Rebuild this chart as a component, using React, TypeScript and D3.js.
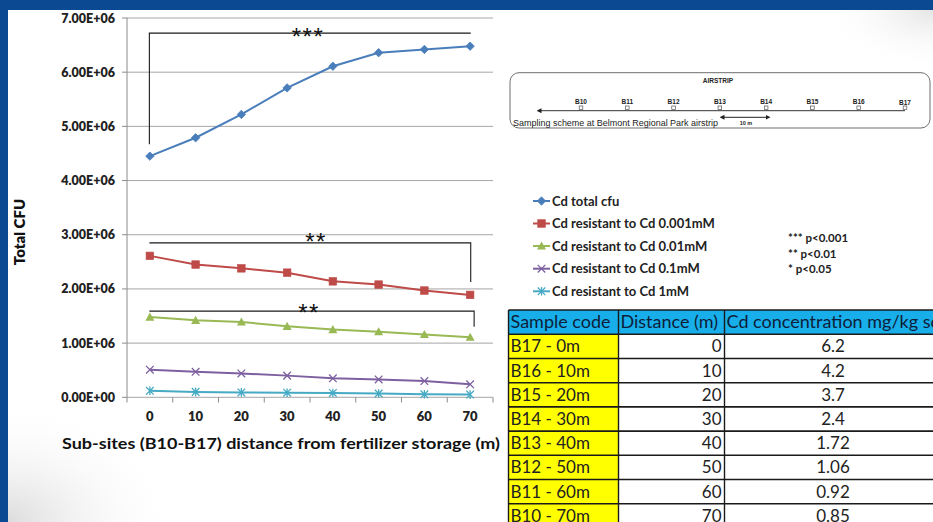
import React from 'react';
import * as d3 from 'd3';

const categories = ['0', '10', '20', '30', '40', '50', '60', '70'];
const totalCfu = [4.45e6, 4.79e6, 5.22e6, 5.71e6, 6.11e6, 6.36e6, 6.42e6, 6.48e6];
const res0001 = [2.61e6, 2.45e6, 2.38e6, 2.30e6, 2.14e6, 2.08e6, 1.97e6, 1.89e6];
const res001 = [1.48e6, 1.42e6, 1.39e6, 1.31e6, 1.25e6, 1.21e6, 1.16e6, 1.11e6];
const res01 = [0.51e6, 0.47e6, 0.44e6, 0.40e6, 0.35e6, 0.33e6, 0.30e6, 0.24e6];
const res1 = [0.12e6, 0.10e6, 0.09e6, 0.085e6, 0.08e6, 0.07e6, 0.055e6, 0.05e6];
const seriesNames = [
  'Cd total cfu',
  'Cd resistant to Cd 0.001mM',
  'Cd resistant to Cd 0.01mM',
  'Cd resistant to Cd 0.1mM',
  'Cd resistant to Cd 1mM',
];
const yTicks = [0, 1e6, 2e6, 3e6, 4e6, 5e6, 6e6, 7e6];
const pLegend = ['*** p<0.001', '** p<0.01', '* p<0.05'];
const sites = ['B10', 'B11', 'B12', 'B13', 'B14', 'B15', 'B16', 'B17'];
const tableHeader = ['Sample code', 'Distance (m)', 'Cd concentration mg/kg soil'];
const sampleCodes = ['B17 - 0m', 'B16 - 10m', 'B15 - 20m', 'B14 - 30m', 'B13 - 40m', 'B12 - 50m', 'B11 - 60m', 'B10 - 70m'];
const distances = [0, 10, 20, 30, 40, 50, 60, 70];
const cdConc = ['6.2', '4.2', '3.7', '2.4', '1.72', '1.06', '0.92', '0.85'];
const brackets = [
  { label: '***', level: 6.72e6, leftDrop: 4.67e6, rightDrop: null as number | null, textX: 308, textY: 44.5 },
  { label: '**', level: 2.85e6, leftDrop: null as number | null, rightDrop: 2.13e6, textX: 316, textY: 249.5 },
  { label: '**', level: 1.59e6, leftDrop: null as number | null, rightDrop: 1.30e6, textX: 309, textY: 320.5 },
];

const colors = ['#4a7ebb', '#be4b48', '#98b954', '#7d60a0', '#46aac5'];
const FONT = 'Lato, "Open Sans", sans-serif';
const ARIAL = "'Liberation Sans', Arial, sans-serif";

function fmtE(v: number) {
  const [m, e] = v.toExponential(2).split('e');
  const sign = e[0] === '-' ? '-' : '+';
  const digits = e.replace(/[+-]/, '').padStart(2, '0');
  return `${m.toUpperCase()}E${sign}${digits}`;
}

function Marker({ type, x, y, color }: { type: number; x: number; y: number; color: string }) {
  if (type === 0) {
    const s = 4.2;
    return <path d={`M${x},${y - s}L${x + s},${y}L${x},${y + s}L${x - s},${y}Z`} fill={color} stroke={color} strokeWidth={0.8} />;
  }
  if (type === 1) {
    const s = 3.8;
    return <rect x={x - s} y={y - s} width={2 * s} height={2 * s} fill={color} stroke={color} strokeWidth={0.6} />;
  }
  if (type === 2) {
    const s = 4.5;
    return <path d={`M${x},${y - s}L${x + s},${y + s * 0.8}L${x - s},${y + s * 0.8}Z`} fill={color} />;
  }
  if (type === 3) {
    const s = 3.8;
    return <path d={`M${x - s},${y - s}L${x + s},${y + s}M${x - s},${y + s}L${x + s},${y - s}`} stroke={color} strokeWidth={1.3} fill="none" />;
  }
  const s = 3.8;
  return (
    <path
      d={`M${x - s},${y - s}L${x + s},${y + s}M${x - s},${y + s}L${x + s},${y - s}M${x},${y - s - 0.5}L${x},${y + s + 0.5}`}
      stroke={color}
      strokeWidth={1.3}
      fill="none"
    />
  );
}

export default function App() {
  const allSeries = [totalCfu, res0001, res001, res01, res1];
  const x = d3.scaleBand<string>().domain(categories).range([127, 493]);
  const cx = (c: string) => (x(c) as number) + x.bandwidth() / 2;
  const y = d3.scaleLinear().domain([0, 7e6]).range([397.3, 18]);
  const line = d3
    .line<number>()
    .x((_, i) => cx(categories[i]))
    .y((d) => y(d));

  const siteX = d3.scalePoint<string>().domain(sites).range([581, 905]);

  const tableTop = 310;
  const headerH = 24.3;
  const rowH = 24.2;
  const colX = [508.5, 618.5, 724.5, 940];

  const x0 = cx(categories[0]);
  const x7 = cx(categories[categories.length - 1]);

  return (
    <svg width={933} height={522} style={{ position: 'absolute', left: 0, top: 0 }} fontFamily={FONT}>
      <defs>
        <radialGradient id="bl" cx="0" cy="1" r="1">
          <stop offset="0" stopColor="#d8d8d8" stopOpacity={0.9} />
          <stop offset="1" stopColor="#ffffff" stopOpacity={0} />
        </radialGradient>
        <radialGradient id="tr" cx="1" cy="0" r="1">
          <stop offset="0" stopColor="#e2e2e2" stopOpacity={0.9} />
          <stop offset="1" stopColor="#ffffff" stopOpacity={0} />
        </radialGradient>
        <marker id="arrL" viewBox="0 0 10 10" refX="1" refY="5" markerWidth="5" markerHeight="5" orient="auto-start-reverse">
          <path d="M0,0L10,5L0,10Z" fill="#222" />
        </marker>
      </defs>
      <rect x={0} y={0} width={933} height={522} fill="#ffffff" />
      <rect x={8} y={400} width={170} height={122} fill="url(#bl)" />
      <rect x={820} y={10} width={113} height={60} fill="url(#tr)" />
      <rect x={0} y={0} width={933} height={10} fill="#0b4a92" />
      <rect x={0} y={0} width={8} height={522} fill="#0b4a92" />

      {/* gridlines */}
      {yTicks.map((t) => (
        <g key={t}>
          <line x1={127} x2={493} y1={y(t)} y2={y(t)} stroke="#a6a6a6" strokeWidth={1} />
          <line x1={122} x2={127} y1={y(t)} y2={y(t)} stroke="#8c8c8c" strokeWidth={1} />
          <text x={115} y={y(t) + 4.5} textAnchor="end" fontSize={12.5} fontWeight={800} fill="#222">
            {fmtE(t)}
          </text>
        </g>
      ))}
      <line x1={127} x2={127} y1={18} y2={397.3} stroke="#8c8c8c" strokeWidth={1} />
      {categories.concat(['end']).map((c, i) => {
        const xx = 127 + i * x.bandwidth();
        return <line key={c} x1={xx} x2={xx} y1={397.3} y2={402.5} stroke="#8c8c8c" strokeWidth={1} />;
      })}
      {categories.map((c) => (
        <text key={c} x={cx(c)} y={421} textAnchor="middle" fontSize={13} fontWeight={800} fill="#222">
          {c}
        </text>
      ))}
      <text transform={`translate(25,232) rotate(-90)`} textAnchor="middle" fontSize={15} fontWeight={800} fill="#111">
        Total CFU
      </text>
      <text x={62} y={449} fontSize={16} fontWeight={700} fill="#111" textLength={438} lengthAdjust="spacingAndGlyphs">
        Sub-sites (B10-B17) distance from fertilizer storage (m)
      </text>

      {/* series */}
      {allSeries.map((s, si) => (
        <g key={si}>
          <path d={line(s) as string} fill="none" stroke={colors[si]} strokeWidth={2} />
          {s.map((v, i) => (
            <Marker key={i} type={si} x={cx(categories[i])} y={y(v)} color={colors[si]} />
          ))}
        </g>
      ))}

      {/* significance brackets */}
      {brackets.map((b, i) => {
        const ly = y(b.level);
        const xr = i === 2 ? x7 + 4 : x7 + 0.6;
        let d = '';
        if (b.leftDrop !== null) d = `M${x0 - 0.5},${y(b.leftDrop)}V${ly}H${xr}`;
        else d = `M${x0 - 0.5},${ly}H${xr}V${y(b.rightDrop as number)}`;
        return (
          <g key={i}>
            <path d={d} fill="none" stroke="#1a1a1a" strokeWidth={1.1} />
            <text x={b.textX} y={b.textY} textAnchor="middle" fontSize={24} letterSpacing={1.5} fill="#111" fontFamily={ARIAL}>
              {b.label}
            </text>
          </g>
        );
      })}

      {/* airstrip scheme */}
      <rect x={510} y={72.7} width={420} height={55.3} rx={9} fill="#fff" stroke="#6e6e6e" strokeWidth={1} />
      <text x={718} y={83} textAnchor="middle" fontSize={6.5} fontWeight={700} fill="#222" fontFamily={ARIAL}>
        AIRSTRIP
      </text>
      <line x1={541} x2={905} y1={110.7} y2={110.7} stroke="#333" strokeWidth={1} markerStart="url(#arrL)" />
      {sites.map((s) => (
        <g key={s}>
          <text x={siteX(s)} y={s === 'B17' ? 104.5 : 103.5} textAnchor="middle" fontSize={6.5} fontWeight={700} fill="#222" fontFamily={ARIAL}>
            {s}
          </text>
          <rect x={(siteX(s) as number) - 1.8} y={106} width={3.6} height={3.4} fill="#fff" stroke="#555" strokeWidth={0.7} />
        </g>
      ))}
      <line x1={724} x2={766} y1={117.3} y2={117.3} stroke="#222" strokeWidth={1} markerStart="url(#arrL)" markerEnd="url(#arrL)" />
      <text x={746} y={125} textAnchor="middle" fontSize={5.5} fontWeight={700} fill="#222" fontFamily={ARIAL}>
        10 m
      </text>
      <text x={513} y={126.3} fontSize={8.4} fill="#222" fontFamily={ARIAL} textLength={205} lengthAdjust="spacingAndGlyphs">
        Sampling scheme at Belmont Regional Park airstrip
      </text>

      {/* legend */}
      {seriesNames.map((n, i) => {
        const ly = [201, 223.5, 246, 268.7, 291.3][i];
        return (
          <g key={n}>
            <line x1={533} x2={550} y1={ly} y2={ly} stroke={colors[i]} strokeWidth={2} />
            <Marker type={i} x={541.5} y={ly} color={colors[i]} />
            <text x={552} y={ly + 4.5} fontSize={13} fontWeight={700} fill="#222">
              {n}
            </text>
          </g>
        );
      })}
      {pLegend.map((p, i) => (
        <text key={p} x={788} y={[242, 257.5, 273][i]} fontSize={11.5} fontWeight={700} fill="#222">
          {p}
        </text>
      ))}

      {/* table */}
      <rect x={colX[0]} y={tableTop} width={933 - colX[0]} height={headerH} fill="#17aee9" />
      {sampleCodes.map((c, i) => (
        <rect key={c} x={colX[0]} y={tableTop + headerH + i * rowH} width={colX[1] - colX[0]} height={rowH} fill="#ffff00" />
      ))}
      {tableHeader.map((h, i) => (
        <text key={h} x={colX[i] + 2} y={tableTop + 18} fontSize={18} fill="#0e1d3a">
          {h}
        </text>
      ))}
      {sampleCodes.map((c, i) => {
        const ry = tableTop + headerH + i * rowH + 18;
        return (
          <g key={c}>
            <text x={colX[0] + 2} y={ry} fontSize={17} fill="#222">
              {c}
            </text>
            <text x={colX[2] - 3} y={ry} fontSize={17} fill="#222" textAnchor="end">
              {distances[i]}
            </text>
            <text x={833} y={ry} fontSize={17} fill="#222" textAnchor="middle">
              {cdConc[i]}
            </text>
          </g>
        );
      })}
      {d3.range(sampleCodes.length + 2).map((k) => {
        const ly = k === 0 ? tableTop : tableTop + headerH + (k - 1) * rowH;
        return <line key={k} x1={colX[0]} x2={933} y1={ly} y2={ly} stroke="#1a1a1a" strokeWidth={1.6} />;
      })}
      {colX.slice(0, 3).map((cxx) => (
        <line key={cxx} x1={cxx} x2={cxx} y1={tableTop} y2={522} stroke="#1a1a1a" strokeWidth={1.4} />
      ))}
    </svg>
  );
}
